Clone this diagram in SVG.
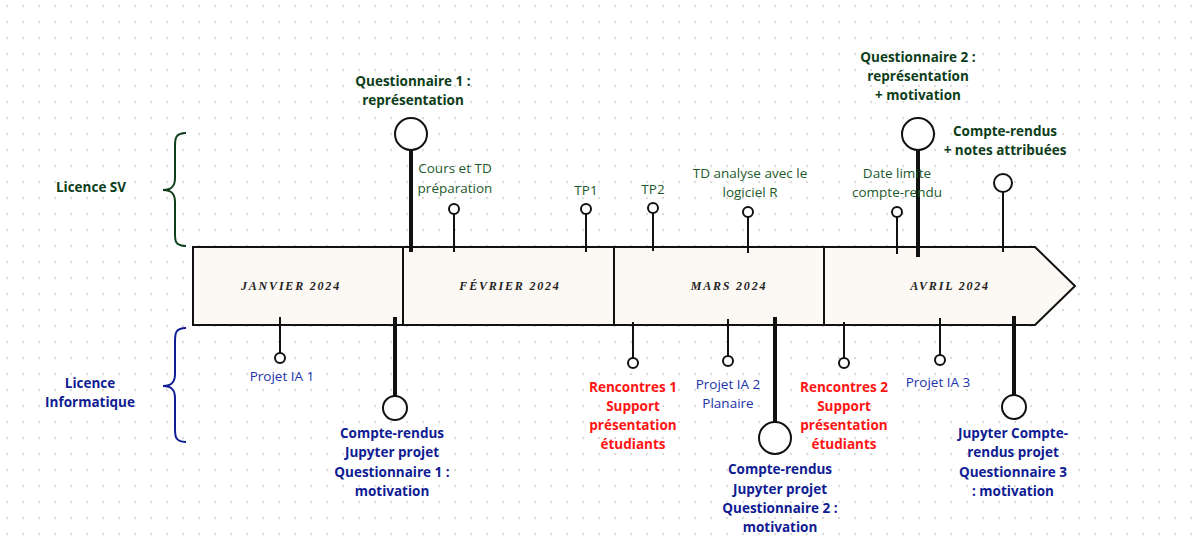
<svg xmlns="http://www.w3.org/2000/svg" width="1203" height="546" viewBox="0 0 1203 546">
<defs>
<pattern id="dots" x="0" y="0" width="16" height="16" patternUnits="userSpaceOnUse">
<circle cx="7" cy="6" r="1.2" fill="#dcdcdc"/>
</pattern>
<style>
.t{font-family:"Open Sans","Liberation Sans",sans-serif;font-size:13.5px;text-anchor:middle}
.b{font-weight:bold}
.g{fill:#1d5a2b}
.gb{fill:#0d3d19}
.bl{fill:#2233aa}
.nb{fill:#0f1c93}
.r{fill:#ff1414}
.m{font-family:"Liberation Serif",serif;font-style:italic;font-weight:bold;font-size:12px;letter-spacing:1.8px;fill:#222;text-anchor:middle}
.stem{stroke:#111;stroke-width:2;fill:none}
.thick{stroke:#111;stroke-width:4;fill:none}
.pin{fill:#fff;stroke:#111;stroke-width:2}
.box{fill:#fcf8f4;stroke:#111;stroke-width:2}
</style>
</defs>
<rect width="1203" height="546" fill="#fff"/>
<rect width="1203" height="546" fill="url(#dots)"/>

<g id="timeline">
<path class="box" d="M193,247 H1035 L1075,286 L1035,325 H193 Z"/>
<line x1="403" y1="247" x2="403" y2="325" stroke="#111" stroke-width="2"/>
<line x1="614" y1="247" x2="614" y2="325" stroke="#111" stroke-width="2"/>
<line x1="824" y1="247" x2="824" y2="325" stroke="#111" stroke-width="2"/>
<text class="m" x="291" y="290">JANVIER 2024</text>
<text class="m" x="510" y="290">FÉVRIER 2024</text>
<text class="m" x="729" y="290">MARS 2024</text>
<text class="m" x="950" y="290">AVRIL 2024</text>
</g>

<g id="label-sv">
<path d="M186,133 C174,133 175,140 175,150 V178 C175,186 172,190 163,190 C172,190 175,194 175,202 V230 C175,240 174,246 186,246" fill="none" stroke="#0d3d19" stroke-width="2"/>
<text class="t b gb" x="91" y="192">Licence SV</text>
</g>
<g id="label-info">
<path d="M186,328 C174,328 175,335 175,345 V374 C175,382 172,386 163,386 C172,386 175,390 175,398 V425 C175,435 174,442 186,442" fill="none" stroke="#0f1c93" stroke-width="2"/>
<text class="t b nb" x="90" y="388">Licence</text>
<text class="t b nb" x="90" y="407">Informatique</text>
</g>

<g id="connectors">
<line class="thick" x1="411" y1="150" x2="411" y2="252"/>
<line class="stem" x1="454" y1="214" x2="454" y2="252"/>
<line class="stem" x1="586" y1="214" x2="586" y2="252"/>
<line class="stem" x1="653" y1="213" x2="653" y2="251"/>
<line class="stem" x1="748" y1="217" x2="748" y2="253"/>
<line class="stem" x1="897" y1="217" x2="897" y2="254"/>
<line class="thick" x1="918" y1="150" x2="918" y2="257"/>
<line class="stem" x1="1003" y1="192" x2="1003" y2="252"/>
<line class="stem" x1="280" y1="317" x2="280" y2="353"/>
<line class="thick" x1="395" y1="317" x2="395" y2="396"/>
<line class="stem" x1="633" y1="322" x2="633" y2="358"/>
<line class="stem" x1="728" y1="319" x2="728" y2="356"/>
<line class="thick" x1="775" y1="317" x2="775" y2="422"/>
<line class="stem" x1="844" y1="322" x2="844" y2="358"/>
<line class="stem" x1="940" y1="318" x2="940" y2="355"/>
<line class="thick" x1="1014" y1="316" x2="1014" y2="395"/>
</g>

<g id="q1">
<circle class="pin" cx="411" cy="134" r="16"/>
<text class="t b gb" x="413" y="86">Questionnaire 1 :</text>
<text class="t b gb" x="413" y="105">représentation</text>
</g>
<g id="cours">
<circle class="pin" cx="454" cy="209" r="5"/>
<text class="t g" x="455" y="173">Cours et TD</text>
<text class="t g" x="455" y="193">préparation</text>
</g>
<g id="tp1">
<circle class="pin" cx="586" cy="209" r="5"/>
<text class="t g" x="586" y="195">TP1</text>
</g>
<g id="tp2">
<circle class="pin" cx="653" cy="208" r="5"/>
<text class="t g" x="653" y="194">TP2</text>
</g>
<g id="td-r">
<circle class="pin" cx="748" cy="212" r="5"/>
<text class="t g" x="750" y="178">TD analyse avec le</text>
<text class="t g" x="750" y="197">logiciel R</text>
</g>
<g id="date-limite">
<circle class="pin" cx="897" cy="212" r="5"/>
<text class="t g" x="897" y="178">Date limite</text>
<text class="t g" x="897" y="197">compte-rendu</text>
</g>
<g id="q2">
<circle class="pin" cx="918" cy="134" r="16"/>
<text class="t b gb" x="918" y="62">Questionnaire 2 :</text>
<text class="t b gb" x="918" y="81">représentation</text>
<text class="t b gb" x="918" y="100">+ motivation</text>
</g>
<g id="cr-notes">
<circle class="pin" cx="1003" cy="183" r="9"/>
<text class="t b gb" x="1005" y="136">Compte-rendus</text>
<text class="t b gb" x="1005" y="155">+ notes attribuées</text>
</g>

<g id="ia1">
<circle class="pin" cx="280" cy="358" r="5"/>
<text class="t bl" x="282" y="381">Projet IA 1</text>
</g>
<g id="cr1">
<circle class="pin" cx="395" cy="408" r="12"/>
<text class="t b nb" x="392" y="438">Compte-rendus</text>
<text class="t b nb" x="392" y="457">Jupyter projet</text>
<text class="t b nb" x="392" y="477">Questionnaire 1 :</text>
<text class="t b nb" x="392" y="496">motivation</text>
</g>
<g id="rencontres1">
<circle class="pin" cx="633" cy="363" r="5"/>
<text class="t b r" x="633" y="392">Rencontres 1</text>
<text class="t b r" x="633" y="411">Support</text>
<text class="t b r" x="633" y="430">présentation</text>
<text class="t b r" x="633" y="449">étudiants</text>
</g>
<g id="ia2">
<circle class="pin" cx="728" cy="361" r="5"/>
<text class="t bl" x="728" y="389">Projet IA 2</text>
<text class="t bl" x="728" y="408">Planaire</text>
</g>
<g id="cr2">
<circle class="pin" cx="775" cy="438" r="16"/>
<text class="t b nb" x="780" y="474">Compte-rendus</text>
<text class="t b nb" x="780" y="494">Jupyter projet</text>
<text class="t b nb" x="780" y="513">Questionnaire 2 :</text>
<text class="t b nb" x="780" y="532">motivation</text>
</g>
<g id="rencontres2">
<circle class="pin" cx="844" cy="363" r="5"/>
<text class="t b r" x="844" y="392">Rencontres 2</text>
<text class="t b r" x="844" y="411">Support</text>
<text class="t b r" x="844" y="430">présentation</text>
<text class="t b r" x="844" y="449">étudiants</text>
</g>
<g id="ia3">
<circle class="pin" cx="940" cy="360" r="5"/>
<text class="t bl" x="938" y="387">Projet IA 3</text>
</g>
<g id="cr3">
<circle class="pin" cx="1014" cy="407" r="12"/>
<text class="t b nb" x="1013" y="438">Jupyter Compte-</text>
<text class="t b nb" x="1013" y="457">rendus projet</text>
<text class="t b nb" x="1013" y="477">Questionnaire 3</text>
<text class="t b nb" x="1013" y="496">: motivation</text>
</g>
</svg>
